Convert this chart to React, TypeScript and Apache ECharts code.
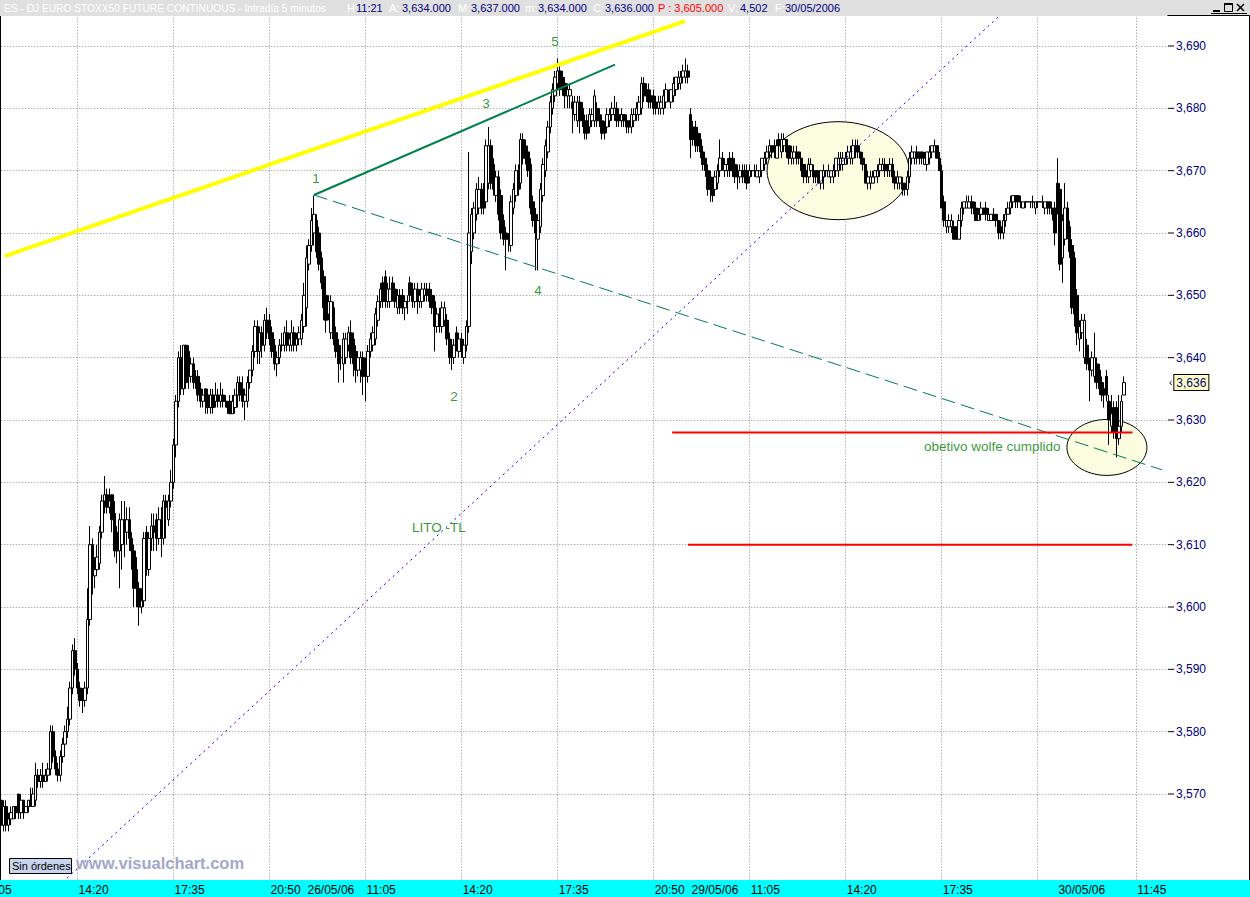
import React, { useEffect, useRef } from 'react';
import * as echarts from 'echarts';

const FONT = '"Liberation Sans", Arial, Helvetica, sans-serif';

// ---- 5-minute bars [open, close, low, high] ----
const day25 = [
  [3569,3565,3564,3570],[3565,3568,3564,3569],[3568,3565,3564,3569],[3565,3566,3564,3567],[3566,3567,3565,3568],
  [3566,3568,3566,3568],[3568,3567,3566,3568],[3570,3567,3566,3570],[3567,3569,3566,3570],[3569,3567,3566,3569],
  [3567,3568,3567,3568],[3568,3569,3567,3569],[3569,3568,3568,3571],[3568,3570,3568,3571],[3569,3573,3568,3575],
  [3573,3572,3571,3574],[3572,3573,3571,3574],[3573,3572,3571,3575],[3572,3573,3572,3574],[3573,3574,3572,3575],
  [3574,3580,3573,3581],[3580,3576,3575,3581],[3576,3574,3573,3577],[3574,3573,3572,3575],[3573,3576,3572,3577],
  [3576,3578,3575,3579],[3578,3580,3577,3581],[3580,3582,3579,3584],[3582,3587,3581,3588],[3587,3593,3586,3594],
  [3593,3590,3589,3595],[3590,3587,3586,3591],[3587,3585,3584,3588],[3586,3585,3583,3587],[3585,3587,3584,3588],
  [3587,3598,3586,3603],[3598,3610,3597,3613],[3610,3605,3602,3611],[3605,3606,3603,3608],[3606,3608,3605,3610],
  [3607,3612,3606,3613],[3612,3617,3611,3618],[3617,3618,3615,3621],[3618,3616,3615,3619],[3616,3617,3615,3619],
  [3618,3614,3612,3618],[3615,3609,3608,3617],[3612,3609,3607,3613],[3609,3614,3603,3615],[3610,3614,3606,3617],
  [3614,3612,3608,3617],[3612,3614,3610,3616],[3614,3611,3609,3616],[3611,3609,3606,3612],[3609,3603,3600,3610],
  [3606,3603,3600,3608],[3603,3600,3597,3604],[3600,3601,3599,3603],[3601,3611,3600,3612],[3612,3606,3605,3613],
  [3606,3611,3605,3612],[3611,3613,3609,3615],[3613,3612,3609,3615],[3614,3611,3609,3615],[3611,3614,3610,3616],
  [3614,3611,3608,3616],[3611,3617,3610,3618],[3617,3616,3611,3618],[3614,3617,3613,3618],[3617,3620,3616,3622],
  [3620,3626,3619,3627],[3626,3633,3624,3634],[3633,3640,3632,3641],[3640,3635,3634,3642],[3635,3642,3634,3642],
  [3642,3636,3635,3642],[3641,3637,3635,3642],[3637,3639,3636,3640],[3639,3636,3635,3640],[3636,3636,3635,3638],
  [3637,3634,3633,3638],[3635,3633,3632,3636],[3633,3634,3632,3635],[3635,3633,3631,3635],[3634,3632,3631,3635],
  [3632,3634,3631,3635],[3634,3632,3631,3635],[3633,3634,3632,3636],[3634,3633,3632,3635],[3633,3634,3632,3636],
  [3634,3633,3632,3635],[3633,3633,3632,3634],[3633,3632,3631,3633],[3633,3631,3631,3634],[3631,3633,3631,3634],
  [3632,3634,3631,3635],[3634,3636,3632,3637],[3636,3634,3633,3637],[3635,3633,3632,3637],[3633,3634,3630,3635],
  [3633,3636,3632,3637],[3636,3638,3635,3638],[3638,3641,3637,3642],[3641,3645,3640,3646],[3645,3641,3639,3646],
  [3641,3644,3639,3645],[3644,3642,3640,3645],[3642,3646,3641,3647],[3646,3644,3643,3648],[3646,3643,3642,3647],
  [3644,3641,3640,3645],[3642,3639,3638,3643],[3639,3640,3637,3641],[3640,3642,3639,3643],[3642,3642,3641,3644],
  [3642,3644,3641,3645],[3644,3642,3641,3646],[3642,3643,3641,3644],[3642,3644,3641,3646],[3644,3642,3641,3645],
  [3642,3643,3641,3644],[3643,3644,3642,3645],[3643,3646,3642,3647],[3645,3650,3644,3652],
];

const day26 = [
  [3648,3656,3645,3658],[3655,3658,3654,3659],[3658,3662,3657,3664],[3660,3663,3658,3666],[3662,3657,3656,3663],
  [3660,3655,3654,3661],[3656,3652,3651,3657],[3653,3648,3646,3654],[3650,3646,3644,3651],[3647,3649,3646,3650],
  [3644,3649,3643,3650],[3648,3643,3642,3649],[3644,3641,3640,3645],[3642,3639,3636,3643],[3640,3640,3638,3642],
  [3639,3643,3636,3644],[3640,3643,3639,3644],[3642,3644,3641,3645],[3644,3640,3639,3646],[3643,3639,3637,3644],
  [3641,3638,3636,3642],[3638,3640,3637,3641],[3638,3640,3636,3641],[3640,3637,3634,3641],[3639,3637,3633,3640],
  [3637,3641,3636,3642],[3641,3643,3640,3644],[3642,3644,3641,3645],[3643,3647,3642,3648],[3646,3649,3645,3650],
  [3649,3651,3648,3652],[3652,3649,3648,3653],[3653,3649,3648,3654],[3649,3651,3648,3652],[3649,3651,3648,3653],
  [3652,3650,3649,3653],[3651,3649,3648,3652],[3648,3650,3647,3651],[3650,3648,3647,3651],[3650,3648,3647,3651],
  [3648,3649,3646,3650],[3649,3649,3647,3650],[3652,3650,3649,3653],[3651,3649,3648,3652],[3649,3651,3648,3652],
  [3651,3649,3647,3652],[3649,3650,3648,3651],[3649,3651,3648,3652],[3650,3651,3649,3652],[3651,3650,3649,3652],
  [3651,3649,3648,3652],[3650,3648,3647,3651],[3649,3645,3641,3650],[3645,3647,3644,3648],[3647,3645,3644,3648],
  [3645,3648,3644,3649],[3646,3648,3645,3649],[3646,3643,3642,3647],[3643,3640,3639,3644],[3642,3640,3638,3643],
  [3640,3642,3639,3643],[3644,3642,3641,3645],[3641,3643,3640,3644],[3643,3641,3640,3644],[3640,3642,3639,3643],
  [3642,3645,3641,3646],[3645,3660,3644,3673],[3657,3663,3655,3664],[3660,3664,3659,3665],[3663,3667,3662,3668],
  [3664,3667,3663,3669],[3667,3664,3663,3668],[3667,3664,3663,3668],[3665,3674,3664,3675],[3668,3674,3667,3677],
  [3674,3668,3667,3675],[3671,3667,3666,3672],[3666,3669,3665,3670],[3669,3663,3662,3670],[3666,3660,3659,3667],
  [3662,3659,3658,3663],[3660,3659,3654,3661],[3659,3659,3657,3660],[3658,3665,3657,3666],[3664,3667,3663,3668],
  [3666,3670,3665,3671],[3670,3667,3666,3671],[3668,3675,3667,3676],[3675,3672,3671,3676],[3674,3672,3671,3675],
  [3673,3670,3669,3674],[3671,3664,3663,3672],[3665,3662,3661,3666],[3663,3660,3654,3664],[3659,3662,3654,3663],
  [3661,3667,3660,3668],[3666,3671,3665,3672],[3670,3674,3669,3675],[3673,3677,3672,3678],[3677,3681,3676,3682],
  [3680,3683,3679,3684],[3682,3685,3681,3686],[3684,3686,3683,3688],[3686,3683,3682,3687],[3685,3683,3682,3686],
  [3684,3682,3680,3685],[3682,3683,3680,3684],[3682,3683,3680,3684],[3681,3680,3676,3682],[3679,3681,3678,3682],
  [3678,3681,3677,3682],[3681,3678,3676,3682],[3680,3678,3677,3681],[3678,3676,3675,3679],[3678,3676,3675,3679],
  [3677,3679,3676,3680],[3678,3679,3677,3680],[3678,3682,3677,3683],[3680,3678,3677,3681],[3679,3678,3677,3680],
  [3678,3676,3675,3679],[3677,3676,3675,3678],[3677,3679,3676,3680],[3678,3679,3677,3680],[3679,3680,3678,3681],
  [3679,3680,3678,3682],[3680,3678,3677,3681],[3679,3678,3677,3680],[3678,3679,3677,3680],[3679,3678,3677,3679],
  [3678,3677,3676,3679],[3678,3677,3676,3678],[3677,3679,3676,3680],[3678,3679,3677,3680],[3679,3680,3678,3681],
  [3679,3681,3678,3682],[3680,3684,3679,3685],[3684,3682,3681,3685],[3683,3682,3681,3684],[3683,3681,3680,3684],
  [3682,3681,3680,3683],[3682,3680,3679,3683],[3681,3680,3679,3682],[3680,3681,3679,3682],[3680,3681,3679,3682],
  [3680,3682,3679,3683],[3681,3683,3680,3684],[3682,3682,3681,3683],[3681,3683,3680,3683],[3682,3684,3681,3685],
  [3683,3685,3682,3685],[3684,3685,3683,3686],[3684,3685,3683,3686],[3685,3686,3684,3687],[3685,3686,3684,3688],
  [3686,3685,3684,3687],
];

const day29 = [
  [3679,3675,3672,3680],[3677,3675,3674,3678],[3677,3674,3673,3678],[3676,3674,3673,3677],[3675,3673,3672,3676],
  [3673,3671,3670,3674],[3672,3670,3669,3672],[3670,3667,3666,3671],[3669,3667,3665,3670],[3668,3666,3665,3669],
  [3667,3669,3666,3670],[3668,3670,3667,3671],[3670,3672,3669,3675],[3672,3671,3670,3673],[3670,3671,3669,3672],
  [3670,3671,3669,3672],[3672,3670,3669,3673],[3672,3670,3669,3673],[3671,3669,3668,3672],[3670,3669,3667,3671],
  [3669,3670,3668,3671],[3670,3669,3668,3671],[3670,3669,3668,3671],[3670,3668,3667,3671],[3669,3670,3668,3671],
  [3670,3670,3669,3670],[3670,3670,3669,3671],[3669,3670,3669,3671],[3669,3670,3668,3670],[3670,3672,3669,3672],
  [3671,3672,3670,3673],[3672,3673,3671,3674],[3673,3674,3672,3675],[3674,3673,3672,3674],[3674,3673,3672,3675],
  [3672,3674,3672,3675],[3675,3674,3673,3676],[3673,3675,3672,3676],[3674,3675,3673,3676],[3675,3673,3672,3675],
  [3674,3672,3671,3674],[3672,3673,3671,3674],[3672,3673,3671,3674],[3673,3672,3671,3674],[3673,3672,3671,3673],
  [3672,3670,3669,3672],[3671,3669,3668,3671],[3670,3669,3668,3670],[3669,3671,3668,3672],[3670,3671,3669,3672],
  [3670,3669,3668,3671],[3670,3669,3668,3670],[3670,3668,3668,3670],[3668,3670,3667,3670],[3669,3670,3667,3671],
  [3670,3670,3669,3670],[3669,3670,3669,3671],[3669,3670,3668,3670],[3669,3670,3668,3671],[3670,3672,3669,3672],
  [3670,3672,3669,3673],[3671,3672,3670,3673],[3671,3672,3670,3673],[3671,3672,3671,3673],[3672,3673,3671,3674],
  [3672,3673,3671,3674],[3672,3674,3671,3675],[3674,3673,3672,3675],[3674,3673,3672,3675],[3673,3672,3671,3673],
  [3672,3671,3670,3673],[3671,3668,3668,3671],[3668,3669,3667,3670],[3668,3669,3667,3670],[3668,3669,3668,3670],
  [3669,3670,3668,3670],[3669,3670,3668,3671],[3670,3671,3669,3672],[3670,3671,3670,3672],[3671,3670,3669,3672],
  [3671,3670,3669,3671],[3670,3671,3669,3672],[3671,3669,3668,3672],[3669,3668,3667,3670],[3668,3669,3667,3670],
  [3668,3669,3667,3669],[3668,3667,3666,3669],[3668,3667,3666,3668],[3667,3669,3666,3670],[3669,3672,3668,3673],
  [3672,3673,3671,3674],[3672,3673,3671,3673],[3673,3672,3671,3674],[3673,3672,3671,3673],[3673,3672,3671,3673],
  [3671,3672,3671,3673],[3671,3673,3670,3673],[3672,3673,3671,3674],[3673,3674,3672,3674],[3673,3674,3673,3675],
  [3674,3672,3672,3674],[3672,3670,3670,3673],[3670,3664,3664,3671],[3665,3662,3661,3666],[3661,3662,3660,3662],
  [3661,3662,3660,3663],[3661,3662,3660,3663],[3661,3659,3659,3662],[3661,3659,3659,3661],[3659,3662,3659,3663],
  [3662,3664,3661,3665],[3664,3665,3663,3665],[3664,3665,3664,3666],[3664,3665,3664,3666],[3665,3664,3663,3666],
  [3665,3664,3663,3665],[3664,3662,3662,3665],[3662,3663,3662,3664],[3663,3664,3662,3665],[3664,3663,3663,3664],
  [3664,3663,3662,3665],[3662,3663,3662,3664],[3662,3663,3662,3663],[3663,3662,3662,3664],[3663,3662,3661,3663],
  [3662,3660,3659,3662],[3661,3660,3659,3662],[3660,3662,3659,3663],[3662,3663,3661,3664],[3663,3664,3663,3665],
  [3664,3665,3663,3666],[3665,3666,3664,3666],[3666,3665,3664,3666],[3666,3665,3664,3666],[3665,3665,3664,3666],
  [3664,3665,3664,3665],[3665,3665,3664,3665],[3665,3665,3665,3665],[3665,3665,3664,3665],[3665,3665,3664,3666],
  [3664,3665,3663,3665],[3665,3665,3664,3665],[3665,3665,3665,3665],[3665,3665,3664,3666],[3664,3665,3663,3665],
  [3665,3664,3663,3665],[3665,3664,3663,3665],[3664,3663,3662,3664],[3664,3660,3658,3665],
];

const day30 = [
  [3668,3664,3663,3672],[3667,3655,3654,3668],[3656,3662,3652,3663],[3659,3664,3658,3668],[3664,3660,3659,3665],
  [3661,3657,3656,3662],[3658,3648,3647,3659],[3656,3647,3645,3657],[3650,3644,3642,3651],[3643,3645,3641,3646],
  [3644,3646,3643,3647],[3640,3646,3639,3647],[3642,3639,3638,3643],[3639,3638,3633,3640],[3638,3640,3637,3641],
  [3637,3640,3636,3644],[3639,3636,3635,3640],[3638,3635,3634,3639],[3636,3634,3633,3637],[3635,3634,3632,3635],
  [3637,3634,3633,3638],[3633,3630,3626,3634],[3629,3631,3628,3634],[3632,3628,3627,3633],[3632,3627,3624,3633],
  [3627,3629,3626,3634],[3629,3633,3628,3634],[3634,3636,3634,3637],
];

// trading sessions (category axis is built from these)
const sessions = [
  { date: '25/05/06', open: '11:05', close: '22:00', firstBar: '11:45', bars: day25 },
  { date: '26/05/06', open: '09:05', close: '22:00', firstBar: '09:05', bars: day26 },
  { date: '29/05/06', open: '09:05', close: '21:25', firstBar: '09:05', bars: day29 },
  { date: '30/05/06', open: '09:05', close: '12:45', firstBar: '09:05', bars: day30 },
];

// time ticks (vertical grid) and price ticks
const timeTicks = [
  '25/05/06 11:05', '25/05/06 14:20', '25/05/06 17:35', '25/05/06 20:50',
  '26/05/06 11:05', '26/05/06 14:20', '26/05/06 17:35', '26/05/06 20:50',
  '29/05/06 11:05', '29/05/06 14:20', '29/05/06 17:35', '29/05/06 20:50',
  '30/05/06 11:45',
];
const unlabeledTicks = ['29/05/06 20:50'];
const priceTicks = [3570, 3580, 3590, 3600, 3610, 3620, 3630, 3640, 3650, 3660, 3670, 3680, 3690];

// drawn studies: x in bar units (from the first drawn bar), y in price
const yellowLine = [[2.0, 3656.3], [278.2, 3694.0]];
const wolfe13Line = [[127.5, 3666.1], [249.8, 3687.0]];
const wolfe14Line = [[127.5, 3666.1], [472.0, 3622.0]];
const litoLine = [[27.2, 3556.5], [405.4, 3694.65]];
const targetLine = [[273.0, 3628], [460.0, 3628]];
const lowerLine = [[279.4, 3610], [459.8, 3610]];
const ellipses = [[340.4, 3670.0, 28.84, 7.86], [449.6, 3625.6, 16.25, 4.49]];
const notes: [number, number, string][] = [
  [128.4, 3668.8, '1'], [184.4, 3633.85, '2'], [197.4, 3680.85, '3'], [218.5, 3650.7, '4'],
  [225.4, 3690.8, '5'], [178.3, 3612.8, 'LITO -TL'], [403.0, 3625.8, 'obetivo wolfe cumplido'],
];

const headerTitle = 'ES - DJ EURO STOXX50 FUTURE CONTINUOUS - Intradía 5 minutos';
const headerTime = '11:21';
const headerPrev = 3605;
const headerVolume = '4,502';
const headerDate = '30/05/2006';

const toMin = (s: string) => { const [h, m] = s.split(':').map(Number); return h * 60 + m; };
const hhmm = (m: number) => `${String(Math.floor(m / 60)).padStart(2, '0')}:${String(m % 60).padStart(2, '0')}`;

export default function App() {
  const ref = useRef<HTMLDivElement>(null);

  useEffect(() => {
    if (!ref.current) return;
    const categories: string[] = [];
    const candles: any[] = [];
    const dayStarts: string[] = [];
    let lead = -1;
    sessions.forEach((s, si) => {
      const o = toMin(s.open), c = toMin(s.close), f = toMin(s.firstBar);
      for (let m = o; m <= c; m += 5) {
        const key = `${s.date} ${hhmm(m)}`;
        if (m === o && si > 0) dayStarts.push(key);
        const k = (m - f) / 5;
        if (k >= 0 && k < s.bars.length) {
          if (lead < 0) lead = categories.length;
          candles.push(s.bars[k]);
        } else {
          candles.push(['-', '-', '-', '-']);
        }
        categories.push(key);
      }
    });
    const vMin = -lead;
    const vMax = categories.length - lead;
    const lastBar = day30[day30.length - 1];
    const fmtInt = (v: number) => v.toLocaleString('en-US');
    const fmt3 = (v: number) => v.toLocaleString('en-US', { minimumFractionDigits: 3, maximumFractionDigits: 3 });

    const labelShown = (v: string) =>
      dayStarts.includes(v) || (timeTicks.includes(v) && !unlabeledTicks.includes(v));
    const tickShown = (v: string) => dayStarts.includes(v) || timeTicks.includes(v);

    const gridLeft = -19.7;
    const gridRight = 83;

    const lineSeries = (data: number[][], lineStyle: any) => ({
      type: 'line', xAxisIndex: 2, yAxisIndex: 0, data, symbol: 'none', showSymbol: false,
      silent: true, z: 3, clip: false, lineStyle, emphasis: { disabled: true },
    });

    const hdrText = (x: number, text: string, fill: string, size = 11) => ({
      type: 'text', x, y: 8, z: 102, silent: true,
      style: { text, fill, fontSize: size, fontFamily: FONT, verticalAlign: 'middle', textVerticalAlign: 'middle' },
    });

    const option: any = {
      animation: false,
      backgroundColor: '#ffffff',
      grid: [
        { left: gridLeft, right: gridRight, top: -16.33, bottom: -21.66, outerBoundsMode: 'none', containLabel: false },
        { left: gridLeft, right: gridRight, top: 880, height: 17, outerBoundsMode: 'none', containLabel: false },
      ],
      xAxis: [
        { type: 'category', gridIndex: 0, data: categories, show: false, boundaryGap: true },
        {
          type: 'category', gridIndex: 1, data: categories, position: 'top', boundaryGap: true, z: 200,
          axisLine: { show: false },
          axisTick: {
            show: true, inside: true, length: 4, alignWithLabel: true,
            interval: (_i: number, v: string) => tickShown(v),
            lineStyle: { color: '#ffffff', width: 1 },
          },
          axisLabel: {
            show: true, inside: true, margin: 4, align: 'left', padding: [0, 0, 0, 1],
            color: '#000000', fontSize: 12, fontFamily: FONT,
            interval: (_i: number, v: string) => labelShown(v),
            formatter: (v: string) => (dayStarts.includes(v) ? v.split(' ')[0] : v.split(' ')[1]),
          },
          splitLine: { show: false },
        },
        { type: 'value', gridIndex: 0, min: vMin, max: vMax, show: false },
      ],
      yAxis: [
        {
          type: 'value', gridIndex: 0, position: 'right', min: 3550, max: 3700, interval: 10,
          axisLine: { show: true, lineStyle: { color: '#000000', width: 1 } },
          axisTick: { show: false },
          splitLine: { show: false },
          axisLabel: {
            margin: 1,
            formatter: (v: number) => (priceTicks.includes(v) ? `{t|}{v|${fmtInt(v)}}` : ''),
            rich: {
              t: { width: 6, height: 1, backgroundColor: '#000000', verticalAlign: 'middle' },
              v: { color: '#000080', fontSize: 12, fontFamily: FONT, padding: [0, 0, 0, 2] },
            },
          },
        },
        { type: 'value', gridIndex: 1, show: false },
      ],
      series: [
        {
          type: 'line', name: 'grid', xAxisIndex: 0, yAxisIndex: 0, z: 0, silent: true,
          data: categories.map(() => '-'), symbol: 'none', lineStyle: { opacity: 0 },
          markLine: {
            z: 0, silent: true, symbol: ['none', 'none'], label: { show: false },
            lineStyle: { color: '#8c8c8c', width: 1, type: [1, 2] }, emphasis: { disabled: true },
            data: [
              ...timeTicks.map((t) => ({ xAxis: t })),
              ...priceTicks.map((p) => ({ yAxis: p })),
            ],
          },
        },
        {
          type: 'custom', xAxisIndex: 2, yAxisIndex: 0, z: 1, silent: true, data: ellipses,
          renderItem: (_p: any, api: any) => {
            const c = api.coord([api.value(0), api.value(1)]);
            const s = api.size([api.value(2), api.value(3)]);
            return {
              type: 'ellipse',
              shape: { cx: c[0], cy: c[1], rx: s[0], ry: s[1] },
              style: { fill: '#fcfce1', stroke: '#000000', lineWidth: 1 },
            };
          },
        },
        {
          type: 'candlestick', xAxisIndex: 0, yAxisIndex: 0, z: 2, data: candles, barWidth: 3, silent: true,
          itemStyle: {
            color: '#ffffff', color0: '#000000', borderColor: '#000000', borderColor0: '#000000',
            borderColorDoji: '#000000', borderWidth: 1,
          },
          emphasis: { disabled: true },
          markLine: {
            silent: true, symbol: ['none', 'none'],
            lineStyle: { color: 'transparent', width: 0 },
            emphasis: { disabled: true },
            label: {
              show: true, position: 'end', distance: 2,
              formatter: `{a|‹}{b|${fmtInt(lastBar[1])}}`,
              rich: {
                a: { color: '#000000', fontSize: 10, fontFamily: FONT, padding: [0, 2, 0, 0] },
                b: {
                  color: '#000080', fontSize: 12, fontFamily: FONT, backgroundColor: '#ffffc0',
                  borderColor: '#000000', borderWidth: 1, padding: [2, 2, 1, 2],
                },
              },
            },
            data: [{ yAxis: lastBar[1] }],
          },
        },
        lineSeries(yellowLine, { color: '#ffff00', width: 4 }),
        lineSeries(wolfe13Line, { color: '#00804a', width: 2 }),
        lineSeries(wolfe14Line, { color: '#00804a', width: 1, type: [14, 6] }),
        lineSeries(litoLine, { color: '#0000ff', width: 1, type: [2, 4] }),
        lineSeries(targetLine, { color: '#ff0000', width: 2 }),
        lineSeries(lowerLine, { color: '#ff0000', width: 2 }),
        {
          type: 'scatter', xAxisIndex: 2, yAxisIndex: 0, z: 4, silent: true, symbolSize: 1,
          itemStyle: { color: 'rgba(0,0,0,0)' },
          data: notes.map((n) => ({ value: [n[0], n[1]], name: n[2] })),
          label: {
            show: true, position: 'inside', formatter: '{b}',
            color: '#008000', fontSize: 13.5, fontFamily: FONT,
          },
          emphasis: { disabled: true },
        },
      ],
      graphic: [
        // header bar
        { type: 'rect', z: 100, silent: true, shape: { x: 0, y: 0, width: 1250, height: 16 }, style: { fill: '#e0e0e0' } },
        hdrText(4, headerTitle, '#ffffff', 10.2),
        hdrText(347, 'H:', '#ffffff'),
        hdrText(356, headerTime, '#000080'),
        hdrText(389, 'A:', '#ffffff'),
        hdrText(402, fmt3(lastBar[0]), '#000080'),
        hdrText(458, 'M:', '#ffffff'),
        hdrText(471, fmt3(lastBar[3]), '#000080'),
        hdrText(525, 'm:', '#ffffff'),
        hdrText(538, fmt3(lastBar[2]), '#000080'),
        hdrText(593, 'C:', '#ffffff'),
        hdrText(605, fmt3(lastBar[1]), '#000080'),
        hdrText(658, `P : ${fmt3(headerPrev)}`, '#ff0000'),
        hdrText(728, 'V:', '#ffffff'),
        hdrText(740, headerVolume, '#000080'),
        hdrText(775, 'F:', '#ffffff'),
        hdrText(785, headerDate, '#000080'),
        // window buttons
        { type: 'rect', z: 102, silent: true, shape: { x: 1213, y: 10, width: 7, height: 2 }, style: { fill: '#000' } },
        { type: 'rect', z: 102, silent: true, shape: { x: 1224.5, y: 3.5, width: 8, height: 8 }, style: { fill: 'none', stroke: '#000', lineWidth: 1 } },
        { type: 'rect', z: 102, silent: true, shape: { x: 1224, y: 3, width: 9, height: 2 }, style: { fill: '#000' } },
        { type: 'line', z: 102, silent: true, shape: { x1: 1237, y1: 4, x2: 1244, y2: 11 }, style: { stroke: '#000', lineWidth: 1.5 } },
        { type: 'line', z: 102, silent: true, shape: { x1: 1244, y1: 4, x2: 1237, y2: 11 }, style: { stroke: '#000', lineWidth: 1.5 } },
        { type: 'line', z: 102, silent: true, shape: { x1: 1211, y1: 13.5, x2: 1247, y2: 13.5 }, style: { stroke: '#000', lineWidth: 1 } },
        // right panel border
        { type: 'polyline', z: 102, silent: true, shape: { points: [[1167.5, 15.5], [1249.5, 15.5], [1249.5, 880]] }, style: { fill: 'none', stroke: '#000', lineWidth: 1 } },
        // time band
        { type: 'rect', z: 100, silent: true, shape: { x: 0, y: 880, width: 1250, height: 17 }, style: { fill: '#00ffff' } },
        // footer
        { type: 'rect', z: 102, silent: true, shape: { x: 9.5, y: 858.5, width: 62, height: 15 }, style: { fill: '#c9d5ee', stroke: '#000', lineWidth: 1 } },
        {
          type: 'text', z: 103, silent: true, x: 12, y: 866,
          style: { text: 'Sin órdenes', fill: '#000000', fontSize: 11, fontFamily: FONT, verticalAlign: 'middle', textVerticalAlign: 'middle' },
        },
        {
          type: 'text', z: 103, silent: true, x: 76, y: 863,
          style: { text: 'www.visualchart.com', fill: '#a3a8cb', fontSize: 16.5, fontWeight: 'bold', fontFamily: FONT, verticalAlign: 'middle', textVerticalAlign: 'middle' },
        },
      ],
    };

    const chart = echarts.init(ref.current, null, { renderer: 'svg' });
    chart.setOption(option);
    return () => chart.dispose();
  }, []);

  return (
    <div
      ref={ref}
      style={{ position: 'absolute', left: 0, top: 0, width: 1250, height: 897, background: '#fff' }}
    />
  );
}
